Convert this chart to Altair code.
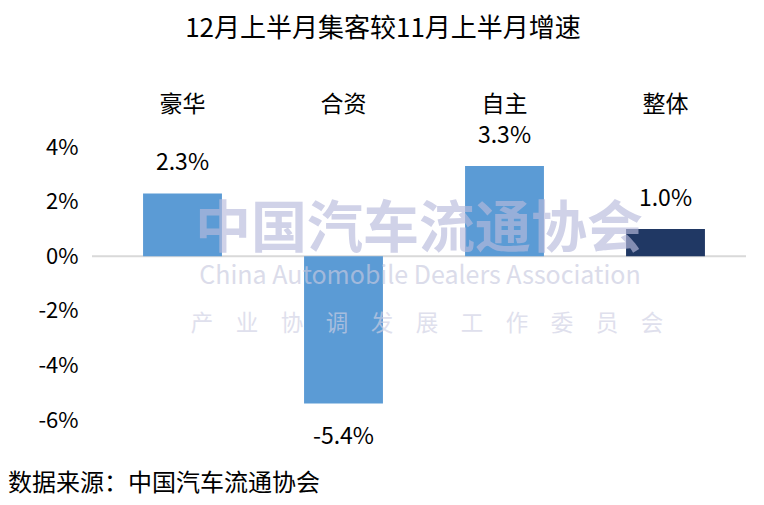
import altair as alt
import pandas as pd

categories = ["豪华", "合资", "自主", "整体"]
values = [0.023, -0.054, 0.033, 0.010]
labels = ["2.3%", "-5.4%", "3.3%", "1.0%"]
colors = ["#5B9BD5", "#5B9BD5", "#5B9BD5", "#203864"]
y_ticks = [0.04, 0.02, 0.0, -0.02, -0.04, -0.06]

title_text = "12月上半月集客较11月上半月增速"
source_text = "数据来源：中国汽车流通协会"
wm_cn = "中国汽车流通协会"
wm_en = "China Automobile Dealers Association"
wm_sub = "\u3000".join("产业协调发展工作委员会")

FONT = "Noto Sans CJK SC"
W, H = 644, 273
PADL, PADT = 94, 139
OX, OY = 8 + PADL, 8 + PADT  # page position of plot origin

df = pd.DataFrame({"cat": categories, "val": values, "label": labels, "color": colors})

xenc = alt.X("cat:N", sort=categories, axis=None,
             scale=alt.Scale(paddingInner=0.51, paddingOuter=0.255))
yscale = alt.Scale(domain=[-0.06, 0.04], nice=False)

base = alt.Chart(df)

bars = base.mark_bar().encode(
    x=xenc,
    y=alt.Y("val:Q", scale=yscale,
            axis=alt.Axis(values=y_ticks, grid=False, domain=False,
                          labelExpr="(datum.value < 0 ? '-' : '') + format(abs(datum.value), '.0%')",
                          ticks=False, labelPadding=24, title=None,
                          labelFontSize=22, labelColor="#000000", labelFont=FONT)),
    y2=alt.datum(0),
    color=alt.Color("color:N", scale=None),
)

zero = alt.Chart(pd.DataFrame({"z": [0]})).mark_rule(color="#d9d9d9", strokeWidth=2).encode(
    y=alt.Y("z:Q", scale=yscale), x=alt.value(92 - OX), x2=alt.value(746 - OX)
)

pos = df[df["val"] >= 0]
neg = df[df["val"] < 0]
lab_pos = alt.Chart(pos).mark_text(fontSize=23, font=FONT, color="#000000", dy=-30).encode(
    x=xenc, y=alt.Y("val:Q", scale=yscale), text="label:N")
lab_neg = alt.Chart(neg).mark_text(fontSize=23, font=FONT, color="#000000", dy=33).encode(
    x=xenc, y=alt.Y("val:Q", scale=yscale), text="label:N")

cat_labels = base.mark_text(fontSize=23, font=FONT, color="#000000").encode(
    x=xenc, y=alt.value(105 - OY), text="cat:N")

def txt(t, x, y, **kw):
    return alt.Chart(pd.DataFrame({"t": [t]})).mark_text(font=FONT, **kw).encode(
        x=alt.value(x - OX), y=alt.value(y - OY), text="t:N")

# positions given in page pixels (x, y centre)
title = txt(title_text, 383, 29, fontSize=26, color="#000000")
source = txt(source_text, 8, 484, fontSize=24, color="#000000", align="left")
wm1 = txt(wm_cn, 419, 230, fontSize=56, fontWeight="bold", color="#b8bbdc", opacity=0.65)
wm2 = txt(wm_en, 420, 276, fontSize=25, color="#c8cae0", opacity=0.65)
wm3 = txt(wm_sub, 427, 324, fontSize=22.5, color="#cfd0e4", opacity=0.65)

chart = alt.layer(zero, bars, wm1, wm2, wm3, lab_pos, lab_neg, cat_labels, title, source).properties(
    width=W, height=H, autosize=alt.AutoSizeParams(type="none"), background="#ffffff",
    padding={"left": PADL, "top": PADT, "right": 2, "bottom": 77},
).configure_view(strokeWidth=0)

chart.save("out.html", embed_options={"renderer": "svg", "actions": False})
